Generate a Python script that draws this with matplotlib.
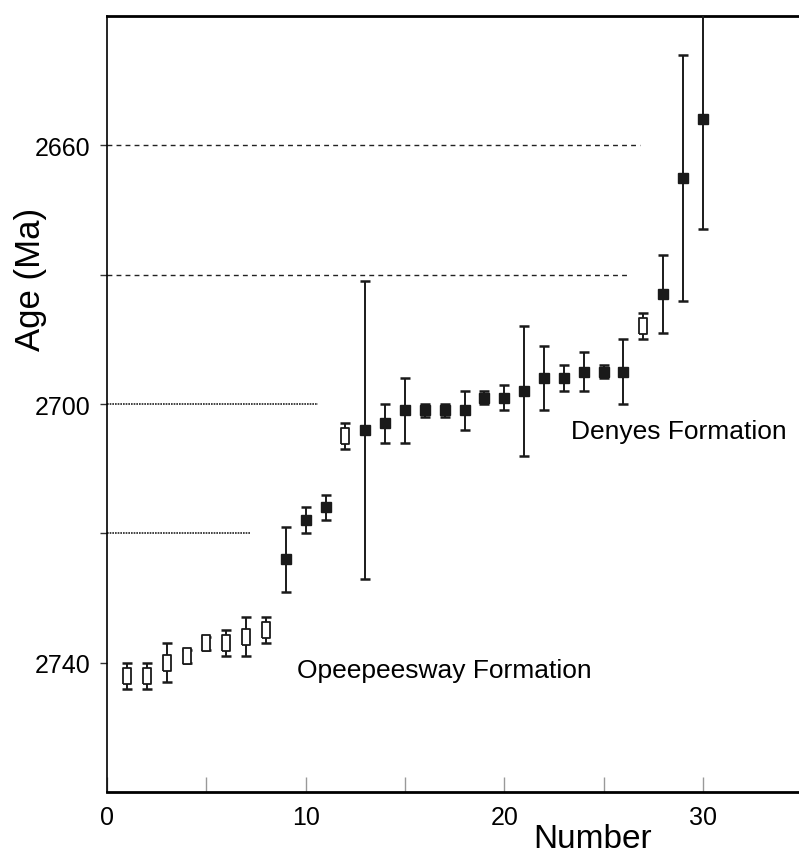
import numpy as np
import matplotlib
matplotlib.use('Agg')
from matplotlib import pyplot as plt

plt.rcParams['font.family'] = ['Liberation Sans', 'DejaVu Sans']

#--------------------------------------------------------------------------------------------
# sample number, age (Ma), 2-sigma error, open (True) / filled (False)
number = [1, 2, 3, 4, 5, 6, 7, 8, 9, 10, 11, 12, 13, 14, 15,
          16, 17, 18, 19, 20, 21, 22, 23, 24, 25, 26, 27, 28, 29, 30]
age = [2742, 2742, 2740, 2739, 2737, 2737, 2736, 2735, 2724, 2718, 2716, 2705, 2704, 2703, 2701,
       2701, 2701, 2701, 2699, 2699, 2698, 2696, 2696, 2695, 2695, 2695, 2688, 2683, 2665, 2656]
err = [2, 2, 3, 1, 1, 2, 3, 2, 5, 2, 2, 2, 23, 3, 5,
       1, 1, 3, 1, 2, 10, 5, 2, 3, 1, 5, 2, 6, 19, 17]
is_open = [True]*8 + [False]*3 + [True] + [False]*14 + [True] + [False]*3

# reference lines: age, right end (Number), style
dashed_ages = [2660, 2680]
dashed_ends = [26.85, 26.3]
dotted_ages = [2700, 2720]
dotted_ends = [10.6, 7.2]

#--------------------------------------------------------------------------------------------
fig = plt.figure(figsize=(7.99, 8.54), dpi=100)
ax = fig.add_axes([0.1342, 0.0714, 0.8696, 0.9087])

for a, e in zip(dashed_ages, dashed_ends):
  ax.plot([0, e], [a, a], ls=(0, (3.5, 3)), lw=1.0, c='#222222', zorder=1)
for a, e in zip(dotted_ages, dotted_ends):
  ax.plot([0, e], [a, a], ls=(0, (1, 0.6)), lw=1.2, c='#222222', zorder=1)

rect = [(-0.5, -1), (0.5, -1), (0.5, 1), (-0.5, 1), (-0.5, -1)]
n = np.array(number); y = np.array(age); e = np.array(err); op = np.array(is_open)

ax.errorbar(n[~op], y[~op], yerr=e[~op], fmt='s', ms=7, mfc='#1a1a1a', mec='#1a1a1a',
            ecolor='#1a1a1a', elinewidth=1.4, capsize=3.5, capthick=1.8, zorder=3)
ax.errorbar(n[op], y[op], yerr=e[op], fmt='none', ecolor='#1a1a1a',
            elinewidth=1.4, capsize=3.5, capthick=1.8, zorder=3)
ax.plot(n[op], y[op], ls='none', marker=rect, ms=11, mfc='white', mec='#1a1a1a',
        mew=1.3, zorder=4)

ax.text(9.55, 2741.2, 'Opeepeesway Formation', fontsize=19, va='center', ha='left')
ax.text(23.35, 2704.1, 'Denyes Formation', fontsize=19, va='center', ha='left')

ax.set_xlim(0, 35)
ax.set_ylim(2760, 2640)

ax.set_xticks(range(0, 35, 5))
ax.set_xticklabels(['0', '', '10', '', '20', '', '30'])
ax.set_yticks([2660, 2680, 2700, 2720, 2740])
ax.set_yticklabels(['2660', '', '2700', '', '2740'])
ax.tick_params(axis='x', direction='in', length=11, width=1, color='#999999',
               labelsize=18, pad=9)
ax.tick_params(axis='y', direction='out', length=5, width=1, color='#333333',
               labelsize=18, pad=7)

ax.set_xlabel('Number', fontsize=24, labelpad=-4)
ax.xaxis.label.set_x(0.698)
ax.set_ylabel('Age (Ma)', fontsize=25, labelpad=-9)
ax.yaxis.label.set_y(0.662)

ax.spines['right'].set_visible(False)
ax.spines['top'].set_linewidth(2)
ax.spines['bottom'].set_linewidth(2)
ax.spines['left'].set_linewidth(1.2)

plt.savefig('out.png', dpi=100)
